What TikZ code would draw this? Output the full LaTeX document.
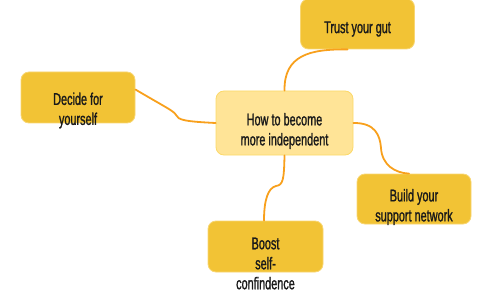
\documentclass[tikz,border=0pt]{standalone}
\usepackage{fontspec}
\setsansfont[FakeStretch=0.64,FakeBold=1.2]{Liberation Sans}
\usepackage{tikz}
\definecolor{Leaf}{HTML}{F2C335}
\definecolor{LeafLine}{HTML}{F8D673}
\definecolor{Core}{HTML}{FFE497}
\definecolor{CoreLine}{HTML}{FCD968}
\definecolor{Branch}{HTML}{F8A01C}
\definecolor{Ink}{HTML}{1A1A1A}
\tikzset{
  box/.style={rounded corners=8pt,line width=0.8pt,inner sep=0pt},
  leafbox/.style={box,draw=LeafLine,fill=Leaf,minimum width=114pt,minimum height=51pt},
  corebox/.style={box,draw=CoreLine,fill=Core,minimum width=137pt,minimum height=64pt},
  caption/.style={align=center,text=Ink,inner sep=0pt,
    font=\sffamily\fontsize{17}{20}\selectfont},
  branch/.style={draw=Branch,line width=1.8pt,line cap=round}
}
\begin{document}
\begin{tikzpicture}[x=1pt,y=1pt]
  \useasboundingbox (0,0) rectangle (486,292);
  % boxes
  \node[corebox] (core) at (284.5,169) {};
  \node[leafbox,minimum height=50pt] (gut) at (357.5,268) {};
  \node[leafbox] (decide) at (78,194.5) {};
  \node[leafbox,minimum height=50pt] (network) at (414,93) {};
  \node[leafbox,minimum width=115pt] (boost) at (265.5,45.5) {};
  % branches
  \draw[branch] (core.north) .. controls (284,237) and (310,243) .. ([xshift=-10pt]gut.south);
  \draw[branch] (core.east) .. controls (375,169.3) and (380,157) .. (381,144)
    .. controls (382,127) and (395,119) .. ([xshift=-5pt]network.north);
  \draw[branch] (core.south) .. controls (284,112) and (283,107) .. (276,106)
    .. controls (268,104) and (264,92) .. ([xshift=-1.5pt]boost.north);
  \draw[branch] (core.west) .. controls (185,170.5) and (178,172) .. (176,177)
    .. controls (174,181) and (165,185) .. ([yshift=8pt]decide.east);
  % captions
  \node[caption] (core-text) at ([yshift=-8pt]core.center) {How to become\\more independent};
  \node[caption] (gut-text) at ([yshift=-5pt]gut.center) {Trust your gut};
  \node[caption] (decide-text) at ([yshift=-13pt]decide.center) {Decide for\\yourself};
  \node[caption] (network-text) at ([yshift=-8pt]network.center) {Build your\\support network};
  \node[caption] (boost-text) at ([yshift=-17pt]boost.center) {Boost\\self-\\confindence};
\end{tikzpicture}
\end{document}
